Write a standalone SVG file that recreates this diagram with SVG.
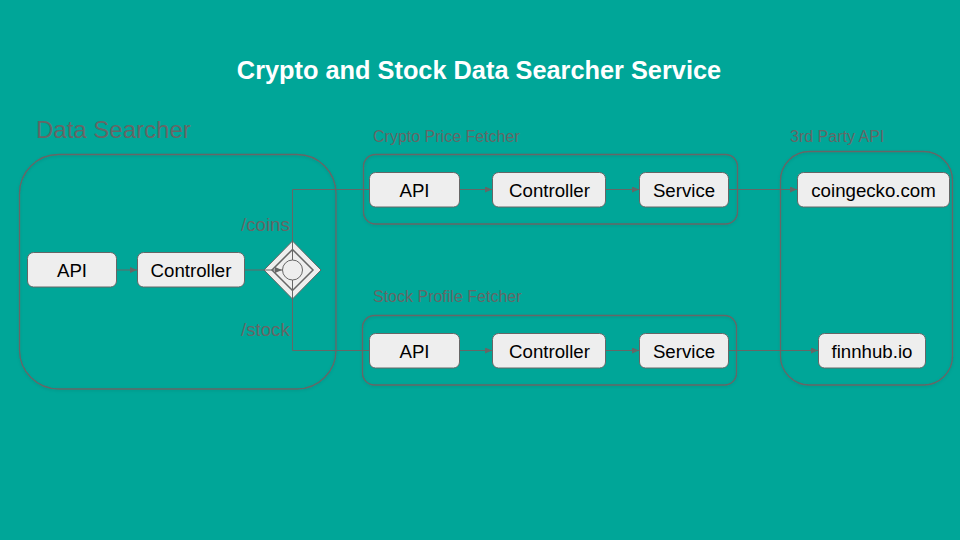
<svg xmlns="http://www.w3.org/2000/svg" width="960" height="540" viewBox="0 0 960 540">
<defs>
<style>
text{font-family:"Liberation Sans",Arial,sans-serif}
.grp{fill:none;stroke:#666;stroke-width:1.330}
.box{fill:#eee;stroke:#666;stroke-width:1}
.lbl{font-size:18.67px;fill:#000;text-anchor:middle}
.cap{font-size:16px;fill:#666}
.route{font-size:18.67px;fill:#666}
.con{fill:none;stroke:#666;stroke-width:1}
.arr{marker-end:url(#a)}
</style>
<marker id="a" markerUnits="userSpaceOnUse" markerWidth="8" markerHeight="7" refX="7" refY="3" orient="auto"><path d="M0 0L7 3L0 6Z" fill="#666"/></marker>
<filter id="s" x="-5%" y="-5%" width="110%" height="110%"><feDropShadow dx="0" dy="1" stdDeviation="1.500" flood-color="#000" flood-opacity=".12"/></filter>
</defs>
<rect width="960" height="540" fill="#00a698"/>
<text x="479" y="79" text-anchor="middle" font-size="25.33" font-weight="700" fill="#fff">Crypto and Stock Data Searcher Service</text>
<g id="group-data-searcher"><rect class="grp" filter="url(#s)" x="19.500" y="154.500" width="316.500" height="234.500" rx="39"/><text x="36" y="138" font-size="24" fill="#666">Data Searcher</text></g>
<g id="group-crypto"><rect class="grp" filter="url(#s)" x="363.500" y="154.500" width="374" height="69.500" rx="12"/><text class="cap" x="373" y="142">Crypto Price Fetcher</text></g>
<g id="group-stock"><rect class="grp" filter="url(#s)" x="362.500" y="315.500" width="374" height="69.500" rx="12"/><text class="cap" x="373" y="302">Stock Profile Fetcher</text></g>
<g id="group-third"><rect class="grp" filter="url(#s)" x="780.500" y="151.500" width="172" height="233.500" rx="29"/><text class="cap" x="790" y="142">3rd Party API</text></g>
<g id="connectors">
<path class="con arr" d="M116 270H137"/>
<path class="con" d="M244 270H264"/>
<path class="con" d="M292.500 241V189.500H370"/>
<path class="con" d="M292.500 299V350.500H370"/>
<path class="con arr" d="M459 189.500H492"/>
<path class="con arr" d="M605 189.500H639"/>
<path class="con arr" d="M728 189.500H797"/>
<path class="con arr" d="M459 350.500H492"/>
<path class="con arr" d="M605 350.500H639"/>
<path class="con arr" d="M728 350.500H818"/>
</g>
<g id="gateway">
<path d="M292.500 241L321 270L292.500 299L264 270Z" fill="#eee" stroke="#666" stroke-width="1"/>
<path d="M292.500 249.500L313 270L292.500 290.500L272 270Z" fill="none" stroke="#666" stroke-width="1.500"/>
<path class="con" d="M292.500 241V260M292.500 280V299"/>
<circle cx="292.500" cy="270" r="10" fill="#eee" stroke="#666"/>
<path class="con arr" d="M264 270H282"/>
</g>
<g id="route-labels"><text class="route" x="241" y="231">/coins</text><text class="route" x="241" y="335.500">/stock</text></g>
<g id="ds-api"><rect class="box" x="27.500" y="252.500" width="89" height="34.500" rx="6"/><text class="lbl" x="72" y="276.700">API</text></g>
<g id="ds-controller"><rect class="box" x="137.500" y="252.500" width="107" height="34.500" rx="6"/><text class="lbl" x="191" y="276.700">Controller</text></g>
<g id="cp-api"><rect class="box" x="369.500" y="172.500" width="90" height="34.500" rx="6"/><text class="lbl" x="414.500" y="196.700">API</text></g>
<g id="cp-controller"><rect class="box" x="492.500" y="172.500" width="113" height="34.500" rx="6"/><text class="lbl" x="549.500" y="196.700">Controller</text></g>
<g id="cp-service"><rect class="box" x="639.500" y="172.500" width="89" height="34.500" rx="6"/><text class="lbl" x="684" y="196.700">Service</text></g>
<g id="coingecko"><rect class="box" x="797.500" y="172.500" width="152" height="34.500" rx="6"/><text class="lbl" x="873.500" y="196.700">coingecko.com</text></g>
<g id="sp-api"><rect class="box" x="369.500" y="333.500" width="90" height="34.500" rx="6"/><text class="lbl" x="414.500" y="357.700">API</text></g>
<g id="sp-controller"><rect class="box" x="492.500" y="333.500" width="113" height="34.500" rx="6"/><text class="lbl" x="549.500" y="357.700">Controller</text></g>
<g id="sp-service"><rect class="box" x="639.500" y="333.500" width="89" height="34.500" rx="6"/><text class="lbl" x="684" y="357.700">Service</text></g>
<g id="finnhub"><rect class="box" x="818.500" y="333.500" width="107" height="34.500" rx="6"/><text class="lbl" x="872" y="357.700">finnhub.io</text></g>
</svg>
